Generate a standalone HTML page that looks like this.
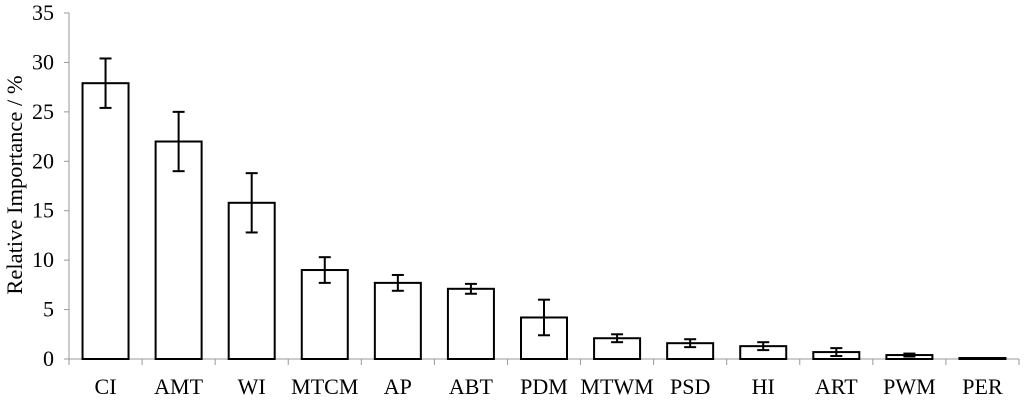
<!DOCTYPE html>
<html><head><meta charset="utf-8"><style>
body{margin:0;background:#fff}
svg text{font-family:"Liberation Serif",serif;fill:#000}
</style></head><body>
<svg id="c" width="1024" height="405"></svg>
<script>
const categories=["CI","AMT","WI","MTCM","AP","ABT","PDM","MTWM","PSD","HI","ART","PWM","PER"];
const values=[27.9,22.0,15.8,9.0,7.7,7.1,4.2,2.1,1.6,1.3,0.7,0.4,0.1];
const errors=[2.5,3.0,3.0,1.3,0.8,0.5,1.8,0.4,0.4,0.4,0.4,0.15,0];
const yTicks=[0,5,10,15,20,25,30,35];
const NS="http://www.w3.org/2000/svg";
const svg=document.getElementById('c');
const x0=69,x1=1019,y0=359,y1=13,ymax=35;
const step=(x1-x0)/categories.length;
const Y=v=>y0-(v/ymax)*(y0-y1);
const X=i=>x0+step*(i+0.5);
function mk(t,a,p){const e=document.createElementNS(NS,t);for(const k in a)e.setAttribute(k,a[k]);(p||svg).appendChild(e);return e;}
let g;
g=mk('line',{x1:x0,y1:y1,x2:x0,y2:y0,stroke:'#999','stroke-width':1});


g=mk('line',{x1:x0,y1:y0,x2:x1,y2:y0,stroke:'#999','stroke-width':1});


yTicks.forEach(t=>{
  mk('line',{x1:x0-5,y1:Y(t),x2:x0,y2:Y(t),stroke:'#999'});
  const tx=mk('text',{x:x0-15,y:Y(t)+7,'text-anchor':'end','font-size':22});
  tx.textContent=t;
  
  
});
for(let i=0;i<=categories.length;i++){mk('line',{x1:x0+step*i,y1:y0,x2:x0+step*i,y2:y0+6,stroke:'#999'});}
categories.forEach((c,i)=>{
  const cx=X(i),w=46,v=values[i],e=errors[i];
  const r=mk('rect',{x:cx-w/2,y:Y(v),width:w,height:Math.max(y0-Y(v),0.5),fill:'#fff',stroke:'#000','stroke-width':2});
  
  
  if(e>0){
    const eg=mk('g',{stroke:'#000','stroke-width':2});
    
    
    mk('line',{x1:cx,y1:Y(v+e),x2:cx,y2:Y(v-e)},eg);
    mk('line',{x1:cx-6,y1:Y(v+e),x2:cx+6,y2:Y(v+e)},eg);
    mk('line',{x1:cx-6,y1:Y(v-e),x2:cx+6,y2:Y(v-e)},eg);
  }
  const tx=mk('text',{x:cx,y:394,'text-anchor':'middle','font-size':22});
  tx.textContent=c;
  
  
});
const yl=mk('text',{x:0,y:0,'text-anchor':'middle','font-size':22.5,transform:'translate(22,185) rotate(-90)'});
yl.textContent='Relative Importance / %';


</script>
</body></html>
